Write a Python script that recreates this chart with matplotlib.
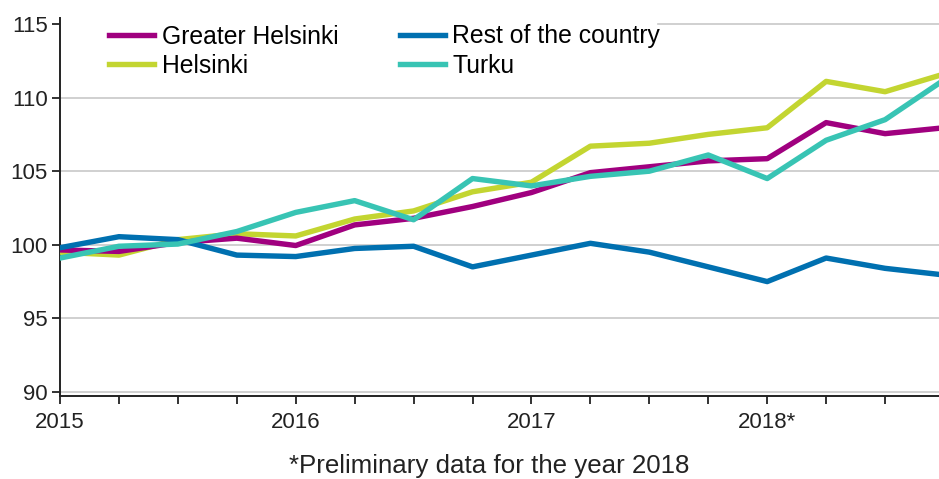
import numpy as np
import matplotlib
matplotlib.use("Agg")
import matplotlib.pyplot as plt

# quarterly index, 2015 Q1 ... 2018 Q4
quarters = ["2015Q1", "2015Q2", "2015Q3", "2015Q4",
            "2016Q1", "2016Q2", "2016Q3", "2016Q4",
            "2017Q1", "2017Q2", "2017Q3", "2017Q4",
            "2018Q1", "2018Q2", "2018Q3", "2018Q4"]
year_labels = ["2015", "2016", "2017", "2018*"]

greater_helsinki = [99.65, 99.55, 100.15, 100.45, 99.95, 101.35, 101.8, 102.6,
                    103.55, 104.9, 105.3, 105.7, 105.85, 108.3, 107.55, 107.95]
helsinki = [99.5, 99.3, 100.35, 100.75, 100.6, 101.75, 102.3, 103.6,
            104.25, 106.7, 106.9, 107.5, 107.95, 111.1, 110.4, 111.6]
rest_of_country = [99.8, 100.55, 100.35, 99.3, 99.2, 99.75, 99.9, 98.5,
                   99.3, 100.1, 99.5, 98.5, 97.5, 99.1, 98.4, 97.95]
turku = [99.1, 99.9, 100.05, 100.9, 102.2, 103.0, 101.7, 104.5,
         104.0, 104.65, 105.0, 106.1, 104.5, 107.1, 108.5, 111.2]

plt.rcParams['font.family'] = ['Liberation Sans', 'DejaVu Sans']

fig = plt.figure(figsize=(9.39, 4.79), dpi=100)
ax = fig.add_axes([60 / 939, 82.6 / 479, 884 / 939, 378.3 / 479])

x = np.arange(len(quarters))
lw = 3.9
ax.plot(x, greater_helsinki, color='#a0007f', lw=lw, label='Greater Helsinki', zorder=4)
ax.plot(x, helsinki, color='#c3d531', lw=lw, label='Helsinki', zorder=3)
ax.plot(x, rest_of_country, color='#0070b0', lw=lw, label='Rest of the country', zorder=5)
ax.plot(x, turku, color='#38c4b4', lw=lw, label='Turku', zorder=6)

ax.set_xlim(0, 15)
ax.set_ylim(89.7, 115.4)

# grid lines (top one hidden behind the legend area)
for v in [90, 95, 100, 105, 110]:
    ax.axhline(v, color='#c8c8c8', lw=1.2, zorder=1)
ax.axhline(115, xmin=(658 - 60) / 884, color='#c8c8c8', lw=1.2, zorder=1)

ax.set_yticks([90, 95, 100, 105, 110, 115])
ax.set_yticklabels(["90", "95", "100", "105", "110", "115"])
ax.set_xticks(x)
ax.set_xticklabels([year_labels[i // 4] if i % 4 == 0 else "" for i in x])

ax.tick_params(axis='both', labelsize=16, colors='#222222', width=1.3, length=5.5, pad=3.5)
ax.tick_params(axis='x', pad=5.5)

for s in ['top', 'right']:
    ax.spines[s].set_visible(False)
for s in ['left', 'bottom']:
    ax.spines[s].set_color('#222222')
    ax.spines[s].set_linewidth(1.4)

ax.legend(loc='upper left', bbox_to_anchor=(109 / 939, 454.5 / 479),
          bbox_transform=fig.transFigure, ncol=2, frameon=False,
          fontsize=17.8, handlelength=1.82, handletextpad=0.32,
          columnspacing=2.47, labelspacing=0.21, borderpad=0, borderaxespad=0)

fig.text(489 / 939, 6 / 479, "*Preliminary data for the year 2018",
         ha='center', va='baseline', fontsize=18.6, color='#222222')

fig.savefig("out.png", dpi=100)
